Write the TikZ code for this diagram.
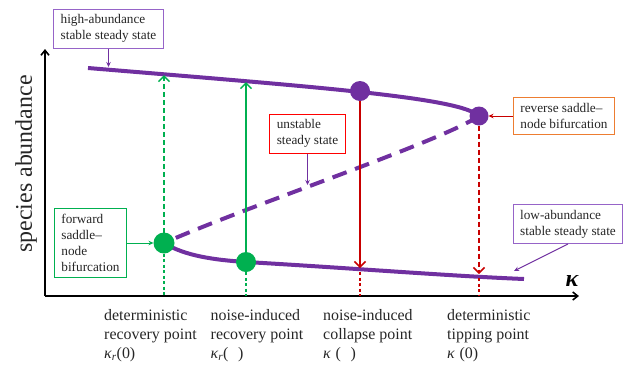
\documentclass[tikz,border=0pt]{standalone}
\usepackage{fontspec}
\setmainfont{Liberation Serif}
\usetikzlibrary{
    arrows.meta,
    positioning,
    calc
}
\definecolor{branchpurple}{RGB}{112,48,160}
\definecolor{boxpurple}{RGB}{150,100,200}
\definecolor{nicegreen}{RGB}{0,176,80}
\definecolor{darkred}{RGB}{200,0,0}
\definecolor{brightred}{RGB}{255,0,0}
\definecolor{niceorange}{RGB}{237,125,49}
\newcommand{\boxfont}{\fontsize{13.3}{16}\selectfont}
\newcommand{\tickfont}{\fontsize{16}{19}\selectfont}
\newcommand{\bigfont}{\fontsize{24}{28}\selectfont}
\tikzset{
    % Colors
    branch color/.style={color=branchpurple},
    nice green/.style={color=nicegreen},
    nice red/.style={color=darkred},
    %
    % Branches
    stable branch/.style={branch color,line width=4bp},
    unstable branch/.style={branch color,line width=4bp,dash pattern=on 15bp off 9bp},
    %
    % Nodes and points
    dot/.style={circle,fill,inner sep=0pt,outer sep=0pt},
    label box/.style={draw=#1,line width=1bp,fill=white,align=left,inner xsep=7bp,inner ysep=5.5bp,font=\boxfont},
    tick label/.style={anchor=north west,inner sep=0pt,align=left,font=\tickfont},
    %
    % Arrows
    arrow tip/.tip={Straight Barb[length=5.5bp,width=11bp,line width=1.5bp]},
    pointer tip/.tip={Stealth[length=5bp,width=4.5bp]},
    arr/.style={->,>={arrow tip},line width=1.6bp},
    dashed arr/.style={arr,dash pattern=on 5bp off 3bp},
    guide/.style={line width=1.1bp,dash pattern=on 3bp off 2.5bp},
    pointer/.style={-{pointer tip},line width=1bp},
    axis/.style={->,>={Straight Barb[length=5bp,width=8bp]},line width=1.6bp,black},
}
\tikzstyle{every node}=[text=black!85]

\begin{document}
\begin{tikzpicture}[x=1bp,y=-1bp]
    \useasboundingbox (0,0) rectangle (627,367);
    % axes
    \coordinate (origin) at (45,296);
    \coordinate (ytip) at (45,49);
    \coordinate (xtip) at (579,296);
    \draw[axis] (origin) -- (ytip);
    \draw[axis] (origin) -- (xtip);
    \node[font=\bigfont\bfseries\itshape,text=black] (kappa) at (572,281) {κ};
    \node[rotate=90,font=\bigfont] (ylabel) at (26,164) {species abundance};

    % branches
    \draw[stable branch] (88,68) .. controls (330,88) and (460,98) .. (479,116);
    \draw[unstable branch] (479,116) .. controls (440,142) and (250,205) .. (164,243);
    \draw[stable branch] (164,243) .. controls (185,256) and (215,260) .. (246,262)
        .. controls (350,268) and (450,276) .. (524,279);

    % points
    \node[dot,branch color,minimum size=20bp] (cdot) at (360,91) {};
    \node[dot,branch color,minimum size=19bp] (tdot) at (479,116) {};
    \node[dot,nice green,minimum size=21bp] (fdot) at (164,243) {};
    \node[dot,nice green,minimum size=20bp] (ndot) at (246,262) {};

    % transitions
    \coordinate (k1) at (164,296);
    \coordinate (k2) at (246,296);
    \coordinate (k3) at (360,296);
    \coordinate (k4) at (479,296);
    \coordinate (rtop) at (164,75);
    \coordinate (ntop) at (246,82);
    \coordinate (clow) at (360,268);
    \coordinate (tlow) at (479,274);
    \coordinate (clow2) at (360,272);
    \coordinate (tlow2) at (479,278);
    \draw[dashed arr,nice green] (fdot) -- (rtop);
    \draw[guide,nice green] (fdot) -- (k1);
    \draw[arr,nice green] (ndot) -- (ntop);
    \draw[guide,nice green] (ndot) -- (k2);
    \draw[arr,nice red] (cdot) -- (clow);
    \draw[guide,nice red] (clow2) -- (k3);
    \draw[dashed arr,nice red] (tdot) -- (tlow);
    \draw[guide,nice red] (tlow2) -- (k4);

    % boxes
    \node[label box=boxpurple] (high) at (108.5,28.5) {high-abundance\\stable steady state};
    \node[label box=brightred] (unstable) at (307.5,133.5) {unstable\\steady state};
    \node[label box=niceorange] (reverse) at (564,116) {reverse saddle–\\node bifurcation};
    \node[label box=nicegreen] (forward) at (90.5,243) {forward\\saddle–\\node\\bifurcation};
    \node[label box=boxpurple] (low) at (568,224) {low-abundance\\stable steady state};
    \coordinate (high end) at (108.5,67);
    \coordinate (unstable end) at (307.5,185);
    \coordinate (low end) at (514,271);
    \draw[pointer,branch color] (high) -- (high end);
    \draw[pointer,branch color] (unstable) -- (unstable end);
    \draw[pointer,nice red] (reverse) -- (tdot);
    \draw[pointer,nice green] (forward) -- (fdot);
    \draw[pointer,branch color] (low.south) -- (low end);

    % tick labels
    \node[tick label] (detrec) at (104,309) {deterministic\\recovery point\\{\itshape κ\textsubscript{r}}(0)};
    \node[tick label] (noiserec) at (210.5,309) {noise-induced\\recovery point\\{\itshape κ\textsubscript{r}}(\hspace{0.6em})};
    \node[tick label] (noisecol) at (323,309) {noise-induced\\collapse point\\{\itshape κ}\hspace{0.3em}(\hspace{0.6em})};
    \node[tick label] (dettip) at (447,309) {deterministic\\tipping point\\{\itshape κ}\hspace{0.3em}(0)};
\end{tikzpicture}
\end{document}
